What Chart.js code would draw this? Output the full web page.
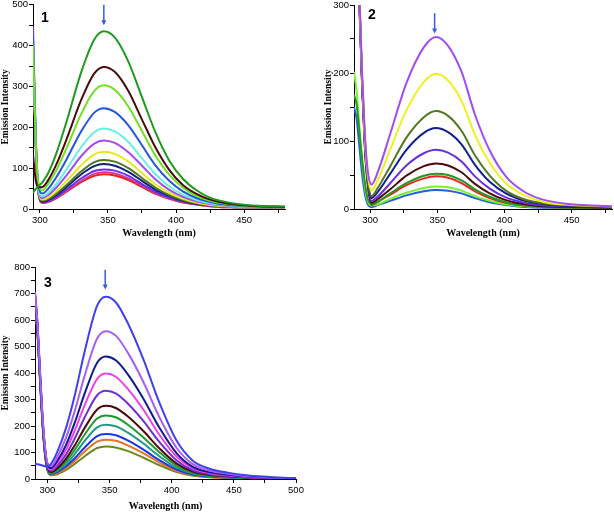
<!DOCTYPE html>
<html>
<head>
<meta charset="utf-8">
<script src="https://cdn.jsdelivr.net/npm/chart.js@4/dist/chart.umd.min.js"></script>
<style>
  body { margin: 0; background: #fff; width: 614px; height: 512px; position: relative; overflow: hidden; }
  canvas { position: absolute; }
</style>
</head>
<body>
<canvas id="c1" width="300" height="240" style="left:0;top:0"></canvas>
<canvas id="c2" width="314" height="240" style="left:300px;top:0"></canvas>
<canvas id="c3" width="310" height="262" style="left:0;top:250px"></canvas>
<script>
// panel 1 – wavelengths (nm) and emission intensities
const wl1 = [295, 297, 299, 302, 306, 312, 320, 330, 340, 347, 355, 365, 375, 385, 395, 405, 415, 425, 440, 460, 480];
const p1Green      = [40, 49, 56, 66, 87, 135, 218, 331, 415, 435, 420, 361, 274, 187, 119, 74, 46, 28, 15, 8, 6];
const p1Maroon     = [134, 71, 53, 54, 70, 108, 174, 264, 332, 348, 336, 289, 219, 150, 96, 59, 37, 23, 12, 7, 5];
const p1Lime       = [401, 167, 63, 46, 61, 94, 152, 230, 289, 303, 292, 251, 191, 130, 84, 52, 32, 20, 11, 6, 5];
const p1Blue       = [417, 172, 57, 38, 49, 77, 124, 188, 236, 247, 238, 205, 156, 106, 69, 43, 27, 17, 9, 6, 5];
const p1Cyan       = [404, 168, 52, 31, 39, 61, 99, 150, 188, 197, 190, 164, 124, 85, 55, 35, 22, 14, 8, 5, 5];
const p1Violet     = [412, 165, 48, 27, 34, 52, 84, 128, 160, 168, 162, 139, 106, 72, 47, 30, 19, 12, 7, 5, 5];
const p1Yellow     = [400, 163, 45, 23, 28, 43, 70, 106, 134, 140, 135, 116, 88, 60, 40, 25, 16, 10, 6, 5, 4];
const p1Olive      = [398, 161, 43, 20, 24, 37, 60, 91, 115, 120, 116, 100, 76, 52, 34, 22, 14, 9, 5, 4, 4];
const p1Navy       = [398, 160, 42, 18, 22, 34, 55, 84, 105, 110, 106, 91, 69, 47, 32, 20, 13, 9, 5, 4, 4];
const p1PurpleBlue = [447, 179, 46, 17, 19, 30, 49, 74, 93, 97, 94, 81, 61, 42, 28, 18, 12, 9, 5, 5, 4];
const p1Pink       = [386, 158, 40, 16, 18, 28, 45, 68, 86, 90, 87, 75, 57, 39, 26, 17, 11, 7, 4, 4, 4];
const p1Red        = [386, 158, 37, 15, 17, 26, 43, 65, 81, 85, 82, 71, 54, 37, 25, 16, 11, 7, 4, 4, 4];

// panel 2
const wl2 = [288, 290, 292, 294, 296, 298, 301, 306, 315, 327, 340, 349, 358, 368, 378, 389, 401, 415, 430, 450, 480];
const p2Violet     = [613, 465, 318, 200, 113, 60, 36, 56, 111, 185, 238, 253, 240, 202, 139, 86, 48, 25, 13, 7, 4];
const p2Yellow     = [610, 462, 314, 196, 108, 55, 27, 44, 88, 145, 187, 199, 189, 159, 109, 68, 38, 20, 10, 6, 4];
const p2Olive      = [607, 459, 310, 192, 103, 49, 19, 32, 63, 105, 135, 144, 137, 115, 79, 49, 27, 14, 8, 5, 3];
const p2Navy       = [606, 457, 308, 190, 101, 47, 16, 26, 52, 87, 112, 119, 113, 95, 65, 40, 23, 12, 7, 4, 3];
const p2PurpleBlue = [604, 455, 306, 187, 98, 44, 12, 19, 38, 64, 82, 87, 83, 70, 48, 30, 17, 9, 5, 4, 3];
const p2Maroon     = [603, 454, 305, 185, 96, 42, 9, 15, 29, 49, 63, 67, 64, 54, 37, 23, 13, 7, 4, 3, 2];
const p2Green      = [168, 153, 114, 74, 40, 17, 7, 11, 23, 38, 49, 52, 50, 42, 29, 18, 10, 5, 3, 2, 2];
const p2Red        = [602, 453, 303, 184, 94, 40, 6, 11, 21, 35, 45, 48, 46, 38, 26, 16, 9, 5, 3, 2, 2];
const p2Lime       = [202, 172, 122, 73, 33, 13, 5, 7, 15, 24, 31, 33, 32, 27, 19, 12, 7, 4, 3, 2, 2];
const p2Blue       = [150, 132, 92, 52, 23, 8, 3, 6, 12, 20, 26, 28, 27, 23, 16, 10, 6, 3, 2, 2, 2];

// panel 3
const wl3 = [290, 292, 294, 296, 298, 300, 303, 308, 315, 322, 330, 340, 347, 355, 365, 377, 390, 404, 417, 431, 445, 460, 480, 500];
const p3BlueViolet = [57, 56, 54, 51, 48, 47, 58, 103, 193, 316, 482, 654, 688, 667, 585, 454, 289, 144, 69, 38, 24, 14, 7, 3];
const p3Violet     = [702, 585, 408, 241, 123, 61, 49, 84, 156, 257, 391, 530, 558, 541, 474, 368, 234, 117, 56, 31, 20, 11, 6, 3];
const p3Navy       = [698, 581, 403, 235, 118, 55, 41, 69, 129, 213, 323, 439, 462, 448, 393, 305, 194, 97, 46, 25, 16, 9, 5, 3];
const p3Magenta    = [706, 588, 405, 237, 116, 51, 36, 60, 111, 183, 279, 378, 398, 386, 338, 263, 167, 84, 40, 22, 14, 8, 5, 3];
const p3Purple     = [693, 575, 397, 228, 110, 47, 31, 50, 93, 153, 233, 316, 333, 323, 283, 220, 140, 70, 33, 18, 12, 7, 4, 2];
const p3Maroon     = [681, 567, 389, 223, 106, 43, 26, 41, 77, 127, 193, 262, 276, 268, 235, 182, 116, 58, 28, 15, 10, 6, 3, 2];
const p3Green      = [680, 566, 387, 221, 103, 41, 23, 36, 67, 110, 168, 228, 240, 233, 204, 158, 101, 50, 24, 13, 8, 5, 3, 2];
const p3Teal       = [668, 559, 382, 217, 100, 38, 20, 31, 57, 94, 144, 195, 205, 199, 174, 135, 86, 43, 21, 11, 7, 4, 2, 1];
const p3Blue       = [667, 558, 381, 215, 98, 36, 18, 26, 48, 78, 119, 162, 170, 165, 145, 112, 71, 36, 17, 9, 6, 3, 2, 1];
const p3Orange     = [656, 552, 377, 213, 97, 35, 16, 22, 41, 68, 104, 141, 148, 144, 126, 98, 62, 31, 15, 8, 5, 3, 2, 1];
const p3Olive      = [655, 551, 376, 212, 95, 33, 14, 18, 34, 57, 86, 117, 123, 119, 105, 81, 52, 26, 12, 7, 4, 2, 1, 1];

const xTitle = 'Wavelength (nm)';
const yTitle = 'Emission Intensity';

const SANS = '"Liberation Sans", Arial, sans-serif';
const SERIF = '"Liberation Serif", "Times New Roman", serif';

// arrow + panel number
const markPlugin = {
    id: 'marks',
    afterDatasetsDraw(chart, args, o) {
        const { ctx, chartArea, scales: { x, y } } = chart;
        const px = x.getPixelForValue(o.arrowAt);
        const y0 = y.getPixelForValue(o.arrowFrom);
        const y1 = y.getPixelForValue(o.arrowTo);
        ctx.save();
        ctx.strokeStyle = '#3a5bd6';
        ctx.fillStyle = '#3a5bd6';
        ctx.lineWidth = 1.5;
        ctx.beginPath(); ctx.moveTo(px, y0); ctx.lineTo(px, y1 - 4); ctx.stroke();
        ctx.beginPath(); ctx.moveTo(px - 2.5, y1 - 5); ctx.lineTo(px + 2.5, y1 - 5); ctx.lineTo(px, y1); ctx.closePath(); ctx.fill();
        ctx.fillStyle = '#000';
        ctx.font = 'bold 14px ' + SANS;
        ctx.textAlign = 'center';
        ctx.textBaseline = 'middle';
        ctx.fillText(o.label, chartArea.left + o.dx, chartArea.top + o.dy);
        ctx.restore();
    }
};

function makePanel(id, wl, series, colors, cfg) {
    const datasets = series.map((s, i) => ({
        data: wl.map((w, k) => ({ x: w, y: s[k] })),
        borderColor: colors[i],
        borderWidth: 2,
        pointRadius: 0,
        fill: false,
        cubicInterpolationMode: 'monotone',
    }));
    const axisGrid = { drawOnChartArea: false, color: '#000', tickColor: '#000', tickLength: 4 };
    return new Chart(document.getElementById(id), {
        type: 'line',
        data: { datasets },
        plugins: [markPlugin],
        options: {
            responsive: false, animation: false, events: [],
            layout: { padding: cfg.pad },
            plugins: { legend: { display: false }, tooltip: { enabled: false }, marks: cfg.mark },
            scales: {
                x: {
                    type: 'linear', min: cfg.xMin, max: cfg.xMax,
                    grid: axisGrid, border: { color: '#000', width: 1 },
                    ticks: { stepSize: 25, includeBounds: false, autoSkip: false, maxRotation: 0, padding: 2, color: '#000',
                             font: { family: SANS, size: 9.5 }, callback: v => (v % 50 === 0 ? String(v) : '') },
                    title: { display: true, text: xTitle, color: '#000', padding: 0, font: { family: SERIF, size: 10, weight: 'bold' } },
                    afterFit: s => { s.height = cfg.xH; },
                },
                y: {
                    min: 0, max: cfg.yMax,
                    grid: axisGrid, border: { color: '#000', width: 1 },
                    ticks: { stepSize: 50, autoSkip: false, padding: 1, color: '#000',
                             font: { family: SANS, size: 9.5, lineHeight: 0.8 }, callback: v => (v % 100 === 0 ? String(v) : '') },
                    title: { display: true, text: yTitle, color: '#000', padding: 0, font: { family: SERIF, size: 9.5, weight: 'bold' } },
                    afterFit: s => { s.width = cfg.yW; },
                },
            },
        },
    });
}

makePanel('c1', wl1,
    [p1Green, p1Maroon, p1Lime, p1Blue, p1Cyan, p1Violet, p1Yellow, p1Olive, p1Navy, p1PurpleBlue, p1Pink, p1Red],
    ['#1f9a1f', '#4b0b0b', '#70e020', '#2456dc', '#66f0e0', '#a24cf0', '#e8e820', '#51771f', '#10207f', '#6a2ef0', '#d03c8c', '#f01c1c'],
    { xMin: 295, xMax: 480, yMax: 500, yW: 33, xH: 30, pad: { left: 0, top: 4, right: 15, bottom: 1 },
      mark: { label: '1', dx: 12, dy: 13, arrowAt: 347, arrowFrom: 500, arrowTo: 450 } });

makePanel('c2', wl2,
    [p2Violet, p2Yellow, p2Olive, p2Navy, p2PurpleBlue, p2Maroon, p2Green, p2Red, p2Lime, p2Blue],
    ['#a24cf0', '#f0f020', '#51771f', '#10208f', '#6a2ee0', '#4b0b0b', '#1f9a1f', '#f02424', '#7af030', '#2260e0'],
    { xMin: 288, xMax: 480, yMax: 300, yW: 31, xH: 30, pad: { left: 23, top: 5, right: 2, bottom: 1 },
      mark: { label: '2', dx: 18, dy: 10, arrowAt: 348, arrowFrom: 288, arrowTo: 258 } });

makePanel('c3', wl3,
    [p3BlueViolet, p3Violet, p3Navy, p3Magenta, p3Purple, p3Maroon, p3Green, p3Teal, p3Blue, p3Orange, p3Olive],
    ['#4040f0', '#a860f0', '#101a90', '#f040e8', '#7030d0', '#4b0808', '#1f9a2a', '#209a86', '#1438f0', '#f07020', '#6a8a1e'],
    { xMin: 290, xMax: 500, yMax: 800, yW: 35, xH: 33, pad: { left: 0, top: 17, right: 14, bottom: 0 },
      mark: { label: '3', dx: 13, dy: 16, arrowAt: 346.5, arrowFrom: 790, arrowTo: 715 } });
</script>
</body>
</html>
